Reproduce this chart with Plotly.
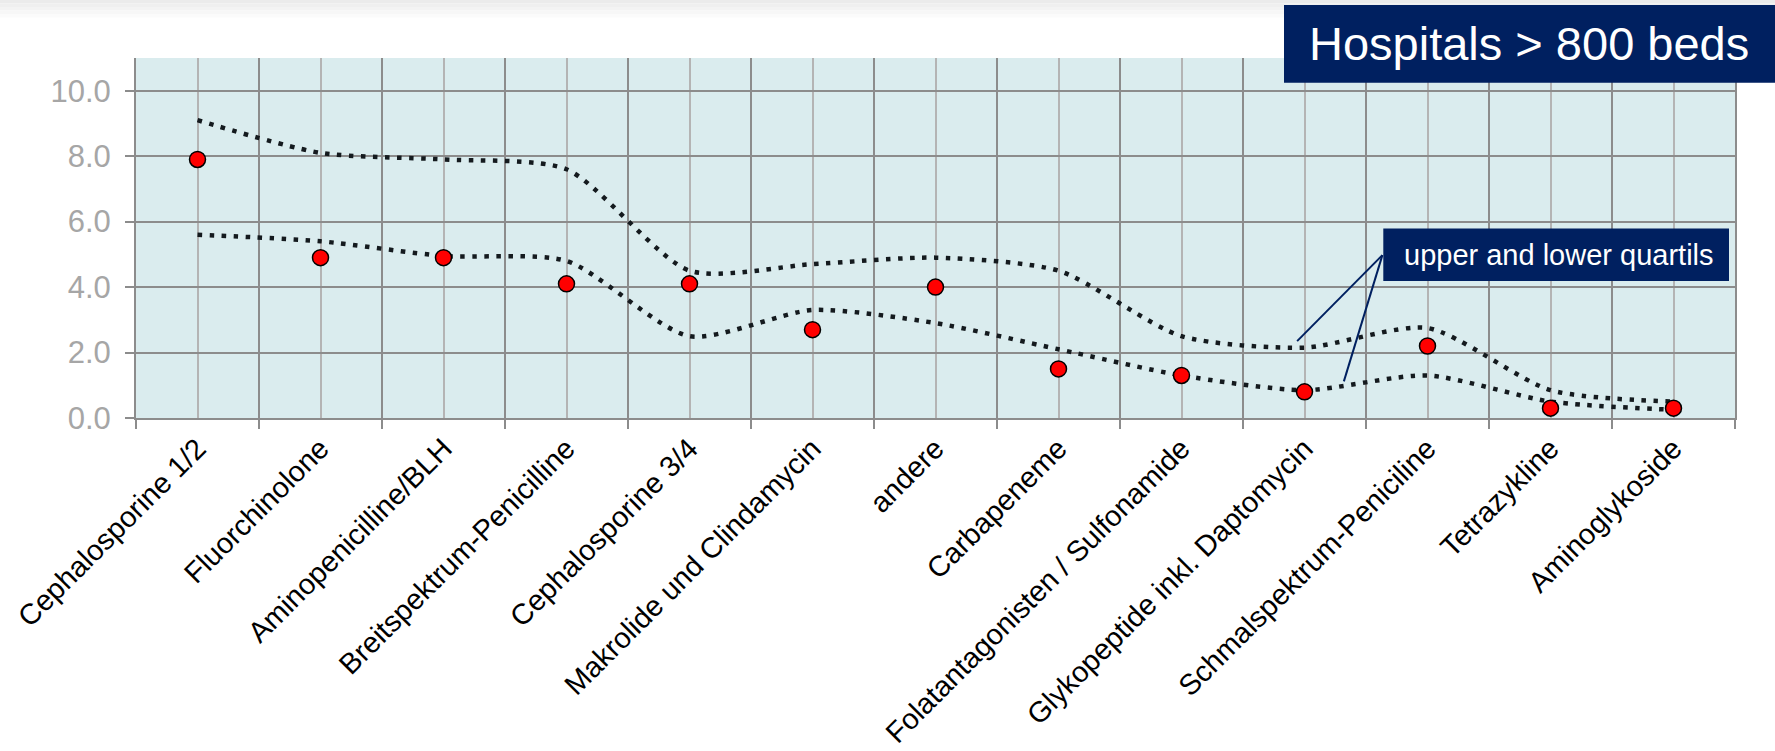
import plotly.graph_objects as go

categories = [
    "Cephalosporine 1/2", "Fluorchinolone", "Aminopenicilline/BLH",
    "Breitspektrum-Penicilline", "Cephalosporine 3/4", "Makrolide und Clindamycin",
    "andere", "Carbapeneme", "Folatantagonisten / Sulfonamide",
    "Glykopeptide inkl. Daptomycin", "Schmalspektrum-Peniciline",
    "Tetrazykline", "Aminoglykoside",
]
values = [7.9, 4.9, 4.9, 4.1, 4.1, 2.7, 4.0, 1.5, 1.3, 0.8, 2.2, 0.3, 0.3]
upper_quartile = [9.1, 8.1, 7.9, 7.6, 4.5, 4.7, 4.9, 4.5, 2.5, 2.15, 2.75, 0.85, 0.5]
lower_quartile = [5.6, 5.4, 4.95, 4.8, 2.5, 3.3, 2.9, 2.1, 1.3, 0.85, 1.3, 0.5, 0.25]
y_ticks = [0, 2, 4, 6, 8, 10]

W, H = 1775, 751
L, R, T, B = 136, 1735, 58, 417.7

def px(x):
    return (x - L) / (R - L)

def py(y):
    return (B - y) / (B - T)

xs = list(range(len(categories)))
NAVY = "#002060"
FONT = "Liberation Sans, Arial, sans-serif"

fig = go.Figure()
for series in (upper_quartile, lower_quartile):
    fig.add_trace(go.Scatter(
        x=xs, y=series, mode="lines",
        line=dict(color="#141a1e", width=4.5, dash="4.5px,7.5px", shape="spline", smoothing=0.7),
        hoverinfo="skip", showlegend=False,
    ))
fig.add_trace(go.Scatter(
    x=xs, y=values, mode="markers",
    marker=dict(color="#ff0000", size=16, line=dict(color="#000000", width=1.5)),
    showlegend=False,
))

shapes = []
# top shadow of the slide
for i, c in enumerate(["#ebebeb", "#efefef", "#f3f3f3", "#f7f7f7", "#fbfbfb"]):
    shapes.append(dict(type="rect", xref="paper", yref="paper",
                       x0=px(0), x1=px(W), y0=py(3.5 * (i + 1)), y1=py(3.5 * i),
                       fillcolor=c, line=dict(width=0), layer="below"))
# title box
shapes.append(dict(type="rect", xref="paper", yref="paper",
                   x0=px(1284), x1=px(1776), y0=py(82.7), y1=py(5),
                   fillcolor=NAVY, line=dict(width=0), layer="above"))
# quartile label box
shapes.append(dict(type="rect", xref="paper", yref="paper",
                   x0=px(1383.3), x1=px(1729), y0=py(280.7), y1=py(228.3),
                   fillcolor=NAVY, line=dict(width=0), layer="above"))
# callout lines
sx = (1382.4 - L) / ((R - L) / 13) - 0.5
sy = (B - 255) / ((B - T) / 11)
for ex, ey in [(8.94, 2.35), (9.32, 1.12)]:
    shapes.append(dict(type="line", xref="x", yref="y", x0=sx, y0=sy, x1=ex, y1=ey,
                       line=dict(color=NAVY, width=2), layer="above"))

annotations = [
    dict(text="Hospitals > 800 beds", xref="paper", yref="paper",
         x=px(1528.7), y=py(44), xanchor="center", yanchor="middle", showarrow=False,
         font=dict(family=FONT, size=47, color="#ffffff")),
    dict(text="upper and lower quartils", xref="paper", yref="paper",
         x=px(1558.5), y=py(254.5), xanchor="center", yanchor="middle", showarrow=False,
         font=dict(family=FONT, size=29, color="#ffffff")),
]

fig.update_layout(
    width=W, height=H,
    margin=dict(l=L, r=W - R, t=T, b=H - B, autoexpand=False),
    paper_bgcolor="#ffffff", plot_bgcolor="#daecee",
    font=dict(family=FONT),
    shapes=shapes, annotations=annotations,
    xaxis=dict(
        automargin=False,
        range=[-0.5, len(categories) - 0.5],
        tickmode="array", tickvals=xs, ticktext=categories,
        tickangle=-45, ticks="", showgrid=True, gridcolor="#b4b4b4", gridwidth=1.5,
        tickfont=dict(family=FONT, size=29, color="#000000"),
        showline=True, linecolor="#8c8c8c", linewidth=2, zeroline=False,
        minor=dict(tick0=-0.5, dtick=1, ticks="outside", ticklen=9, tickwidth=2,
                   tickcolor="#8c8c8c", showgrid=True, gridcolor="#8c8c8c", gridwidth=2),
    ),
    yaxis=dict(
        automargin=False,
        range=[0, 11], tickmode="array", tickvals=y_ticks,
        ticktext=[f"{v:.1f}" for v in y_ticks],
        ticks="outside", ticklen=9, tickwidth=2, tickcolor="#8c8c8c",
        ticklabelstandoff=8,
        showgrid=True, gridcolor="#8c8c8c", gridwidth=2,
        showline=True, linecolor="#8c8c8c", linewidth=2, mirror=True, zeroline=False,
        tickfont=dict(family=FONT, size=31, color="#a6a6a6"),
    ),
)

fig.write_html("out.html")
